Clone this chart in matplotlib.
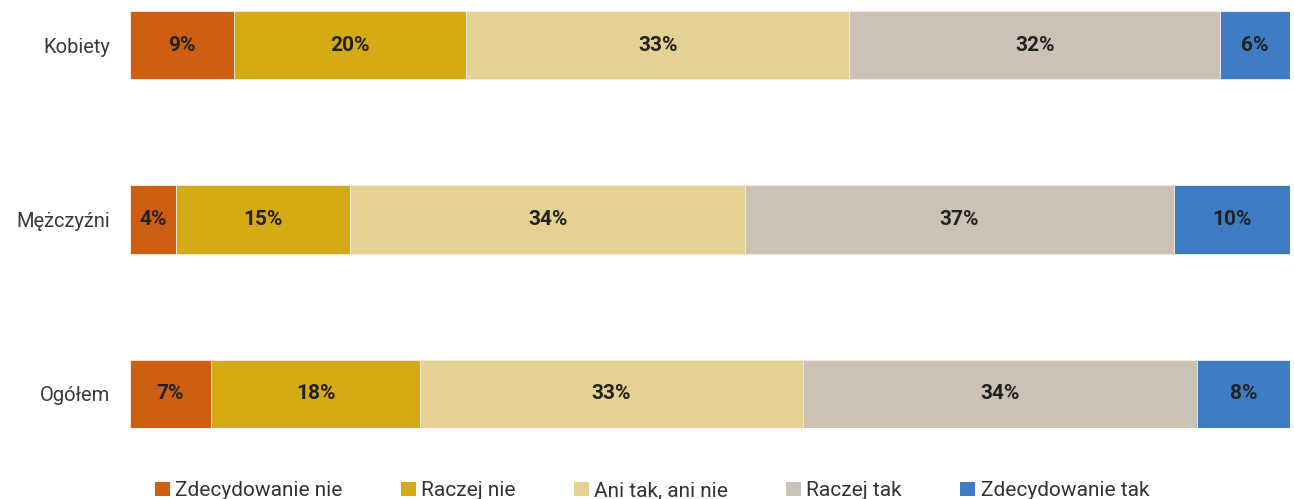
import matplotlib
matplotlib.use("Agg")
import matplotlib.pyplot as plt
from matplotlib.patches import Patch

plt.rcParams['font.family'] = ['Roboto', 'DejaVu Sans']

groups = ["Kobiety", "Mężczyźni", "Ogółem"]
answers = ["Zdecydowanie nie", "Raczej nie", "Ani tak, ani nie", "Raczej tak", "Zdecydowanie tak"]
zdecydowanie_nie = [9, 4, 7]
raczej_nie = [20, 15, 18]
ani_tak_ani_nie = [33, 34, 33]
raczej_tak = [32, 37, 34]
zdecydowanie_tak = [6, 10, 8]
series = [zdecydowanie_nie, raczej_nie, ani_tak_ani_nie, raczej_tak, zdecydowanie_tak]
colors = ["#CD5E12", "#D4AB14", "#E5D192", "#CBC2B5", "#3E7CC4"]

W, H = 1294, 499
fig = plt.figure(figsize=(W / 100, H / 100), dpi=100)
ax = fig.add_axes([130 / W, 1 - 428 / H, 1160 / W, 417 / H])

bar_h = 0.39
ypos = list(range(len(groups)))
left = [0] * len(groups)
for vals, col in zip(series, colors):
    ax.barh(ypos, vals, left=left, height=bar_h, color=col,
            edgecolor="#F3EEE6", linewidth=0.6)
    for y, l, v in zip(ypos, left, vals):
        ax.text(l + v / 2, y, f"{v}%", ha="center", va="center",
                fontsize=15, fontweight="bold", color="#222222")
    left = [l + v for l, v in zip(left, vals)]

ax.set_xlim(0, 100)
ax.set_ylim(len(groups) - 1 + bar_h / 2, -bar_h / 2)
ax.set_yticks(ypos)
ax.set_yticklabels(groups, fontsize=14.5, color="#3a3a3a")
ax.tick_params(axis="y", length=0, pad=14)
ax.set_xticks([])
for s in ax.spines.values():
    s.set_visible(False)

handles = [Patch(facecolor=c, edgecolor="none") for c in colors]
leg = fig.legend(handles, answers, loc="center", ncol=5,
                 bbox_to_anchor=(652 / W, 1 - 491 / H), frameon=False,
                 prop={"size": 15},
                 handlelength=0.72, handleheight=0.67,
                 handletextpad=0.25, columnspacing=2.8, labelcolor="#333333")

fig.savefig("out.png", dpi=100)
